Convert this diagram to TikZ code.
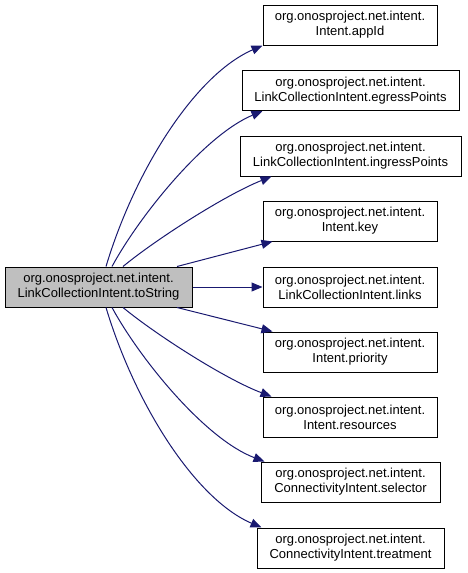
\documentclass[tikz,border=0pt]{standalone}
\usepackage{fontspec}
\setmainfont{Liberation Sans}
\usetikzlibrary{arrows.meta}
\definecolor{edgeblue}{RGB}{25,25,112}
\definecolor{nodegray}{RGB}{191,191,191}
\begin{document}
\begin{tikzpicture}[x=1pt,y=-1pt,
  box/.style={draw=black, line width=1pt, minimum height=40pt, inner sep=0pt, align=center,
    font=\fontsize{13}{15}\selectfont},
  edge/.style={draw=edgeblue, line width=1pt, -{Triangle[length=11pt,width=9pt]}}
]
\useasboundingbox (0,0) rectangle (467,573);
\node[box, fill=nodegray, minimum width=187pt] (L) at (98.5,287) {org.onosproject.net.intent.\\LinkCollectionIntent.toString};
\node[box, minimum width=174pt] (apid) at (350,25) {org.onosproject.net.intent.\\Intent.appId};
\node[box, minimum width=217pt] (egr) at (350.5,90.5) {org.onosproject.net.intent.\\LinkCollectionIntent.egressPoints};
\node[box, minimum width=221pt] (ingr) at (350.5,156) {org.onosproject.net.intent.\\LinkCollectionIntent.ingressPoints};
\node[box, minimum width=174pt] (key) at (350,221) {org.onosproject.net.intent.\\Intent.key};
\node[box, minimum width=174pt] (links) at (350,287) {org.onosproject.net.intent.\\LinkCollectionIntent.links};
\node[box, minimum width=174pt] (prio) at (350,352) {org.onosproject.net.intent.\\Intent.priority};
\node[box, minimum width=174pt] (res) at (350,417) {org.onosproject.net.intent.\\Intent.resources};
\node[box, minimum width=179pt] (sel) at (350.5,482) {org.onosproject.net.intent.\\ConnectivityIntent.selector};
\node[box, minimum width=187pt] (treat) at (350.5,548) {org.onosproject.net.intent.\\ConnectivityIntent.treatment};

\draw[edge] ([xshift=7.5pt]L.north) .. controls (135,170) and (195,75) .. (apid.south west);
\draw[edge] ([xshift=13.5pt]L.north) .. controls (140,215) and (205,135) .. ([xshift=21pt]egr.south west);
\draw[edge] ([xshift=24.5pt]L.north) .. controls (155,240) and (225,195) .. ([xshift=32pt]ingr.south west);
\draw[edge] ([xshift=78.5pt]L.north) -- ([xshift=10pt]key.south west);
\draw[edge] (L.east) -- (links.west);
\draw[edge] ([xshift=78.5pt]L.south) -- ([xshift=10pt]prio.north west);
\draw[edge] ([xshift=24.5pt]L.south) .. controls (155,334) and (225,379) .. ([xshift=9pt]res.north west);
\draw[edge] ([xshift=13.5pt]L.south) .. controls (140,359) and (205,439) .. ([xshift=4pt]sel.north west);
\draw[edge] ([xshift=7.5pt]L.south) .. controls (135,404) and (195,499) .. ([xshift=5pt]treat.north west);
\end{tikzpicture}
\end{document}
